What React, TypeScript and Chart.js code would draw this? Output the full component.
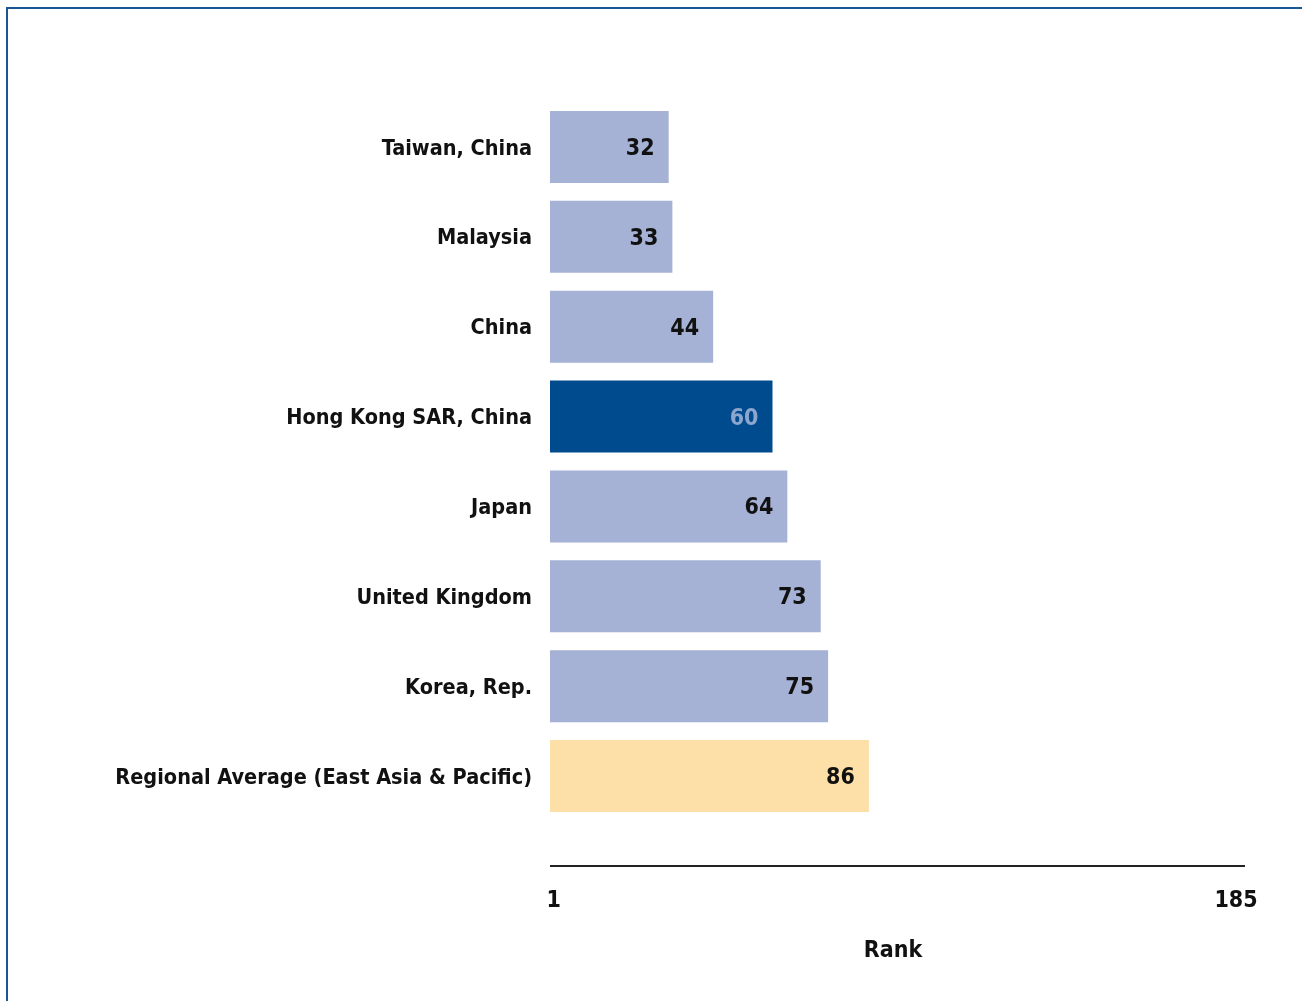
import React, { useEffect, useRef } from "react";
import Chart from "chart.js/auto";

const categories = [
  "Taiwan, China",
  "Malaysia",
  "China",
  "Hong Kong SAR, China",
  "Japan",
  "United Kingdom",
  "Korea, Rep.",
  "Regional Average (East Asia & Pacific)",
];
const ranks = [32, 33, 44, 60, 64, 73, 75, 86];
const barColors = ["#A5B1D5", "#A5B1D5", "#A5B1D5", "#004B8D", "#A5B1D5", "#A5B1D5", "#A5B1D5", "#FDDFA8"];
const valueLabelColors = ["#111111", "#111111", "#111111", "#8DA6CD", "#111111", "#111111", "#111111", "#111111"];
const axisTicks = [1, 185];
const axisTitle = "Rank";

const FONT = "'Liberation Sans Narrow', 'DejaVu Sans Condensed', 'Noto Sans', sans-serif";

export default function App() {
  const ref = useRef<HTMLCanvasElement | null>(null);
  useEffect(() => {
    if (!ref.current) return;
    const valueLabels = {
      id: "valueLabels",
      afterDatasetsDraw(chart: any) {
        const ctx = chart.ctx;
        const meta = chart.getDatasetMeta(0);
        ctx.save();
        ctx.font = `bold 23px ${FONT}`;
        ctx.textAlign = "right";
        ctx.textBaseline = "middle";
        meta.data.forEach((bar: any, i: number) => {
          ctx.fillStyle = valueLabelColors[i];
          ctx.fillText(String(ranks[i]), bar.x - 14, bar.y + 2);
        });
        ctx.restore();
      },
    };
    const axisLine = {
      id: "axisLine",
      afterDraw(chart: any) {
        const ctx = chart.ctx;
        const x = chart.scales.x;
        ctx.save();
        ctx.strokeStyle = "#222222";
        ctx.lineWidth = 2;
        ctx.beginPath();
        ctx.moveTo(x.left, 866);
        ctx.lineTo(x.right + 9, 866);
        ctx.stroke();
        ctx.restore();
      },
    };
    const chart = new Chart(ref.current, {
      type: "bar",
      data: {
        labels: categories,
        datasets: [
          {
            data: ranks,
            backgroundColor: barColors,
            barPercentage: 0.8,
            categoryPercentage: 1,
          },
        ],
      },
      options: {
        indexAxis: "y",
        animation: false,
        responsive: false,
        maintainAspectRatio: false,
        layout: { padding: { top: 102, right: 66, bottom: 0, left: 0 } },
        plugins: { legend: { display: false }, tooltip: { enabled: false } },
        scales: {
          y: {
            grid: { display: false, drawTicks: false },
            border: { display: false },
            ticks: {
              color: "#111111",
              padding: 18,
              labelOffset: 2,
              font: { family: FONT, size: 21.5, weight: "bold" },
            },
            afterFit(scale: any) {
              scale.width = 550;
            },
          },
          x: {
            min: 0,
            max: 185,
            grid: { display: false, drawTicks: false },
            border: { display: false },
            afterBuildTicks(scale: any) {
              scale.ticks = axisTicks.map((v) => ({ value: v }));
            },
            ticks: {
              color: "#111111",
              padding: 66,
              maxRotation: 0,
              autoSkip: false,
              font: { family: FONT, size: 23, weight: "bold" },
              callback: (v: any) => String(v),
            },
            title: {
              display: true,
              text: axisTitle,
              color: "#111111",
              padding: { top: 20, bottom: 36 },
              font: { family: FONT, size: 23, weight: "bold" },
            },
            afterFit(scale: any) {
              scale.height = 180;
              scale.paddingLeft = 0;
              scale.paddingRight = 0;
            },
          },
        },
      },
      plugins: [valueLabels, axisLine],
    });
    return () => chart.destroy();
  }, []);
  return (
    <div style={{ position: "absolute", left: 0, top: 0, width: 1302, height: 1001, background: "#fff", overflow: "hidden" }}>
      <div
        style={{
          position: "absolute",
          left: 6,
          top: 7,
          width: 1302,
          height: 1001,
          borderLeft: "2px solid #1A5596",
          borderTop: "2px solid #1A5596",
        }}
      />
      <canvas ref={ref} width={1302} height={1001} style={{ position: "absolute", left: 0, top: 0, width: 1302, height: 1001 }} />
    </div>
  );
}
